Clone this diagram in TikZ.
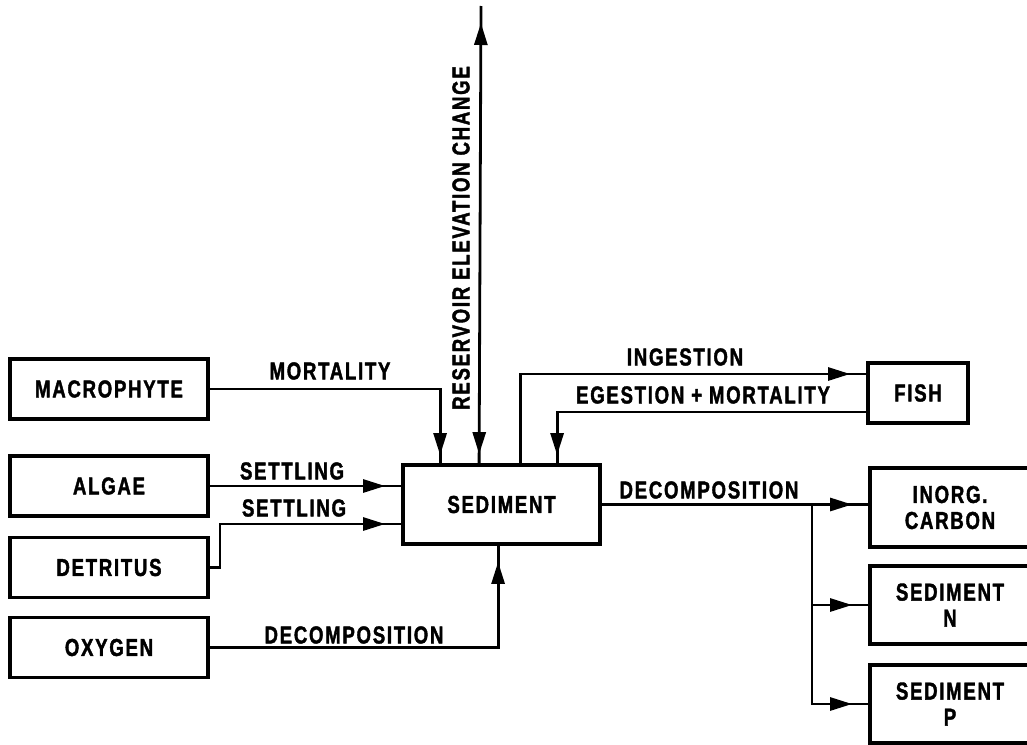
\documentclass[tikz,border=0pt]{standalone}
\usepackage{fontspec}
\newfontfamily\blockfont{Liberation Sans}[FakeStretch=0.76,LetterSpace=7,FakeBold=1.6]
\usetikzlibrary{arrows.meta,decorations.markings}

\tikzset{
  txt/.style={font=\blockfont\bfseries\fontsize{24.5}{26}\selectfont, align=center},
  box/.style={txt, draw, line width=3.8pt, inner sep=0pt},
  leftbox/.style={box, minimum width=198pt, minimum height=60pt},
  rightbox/.style={box, minimum width=160pt, minimum height=79pt},
  lbl/.style={txt, inner sep=0pt},
  flow/.style={line width=2.8pt, postaction={decorate},
    decoration={markings, mark=at position #1 with {\arrow{Triangle[length=22pt,width=13pt]}}}},
  flow/.default=-16pt,
  twoway/.style={line width=2.8pt, postaction={decorate},
    decoration={markings,
      mark=at position 17pt with {\arrowreversed{Triangle[length=22pt,width=13pt]}},
      mark=at position -9pt with {\arrow{Triangle[length=22pt,width=13pt]}}}}
}

\begin{document}
\begin{tikzpicture}[x=1pt,y=-1pt]
\useasboundingbox (0,0) rectangle (1027,744);

% compartments
\node[leftbox] (macro) at (109,389) {MACROPHYTE};
\node[leftbox] (algae) at (109,486) {ALGAE};
\node[leftbox] (det)   at (109,567.5) {DETRITUS};
\node[leftbox] (oxy)   at (109,647.5) {OXYGEN};
\node[box, minimum width=197pt, minimum height=79pt] (sed) at (501.5,504.5) {SEDIMENT};
\node[box, minimum width=100pt, minimum height=60pt] (fish) at (918,393) {FISH};
\node[rightbox] (inorg) at (950,507.5) {INORG.\\CARBON};
\node[rightbox, minimum height=78pt] (sedn) at (950,605) {SEDIMENT\\N};
\node[rightbox, minimum height=78pt] (sedp) at (950,704) {SEDIMENT\\P};

% attachment points on the sediment box
\coordinate (sM) at ([xshift=39pt]sed.north west);
\coordinate (sR) at ([xshift=78pt]sed.north west);
\coordinate (sI) at ([xshift=119pt]sed.north west);
\coordinate (sE) at ([xshift=156pt]sed.north west);
\coordinate (sO) at ([xshift=97pt]sed.south west);
\coordinate (top) at (481,6);
\coordinate (br) at (812,504.5);

% fluxes into sediment
\draw[flow=-8pt] (macro.east) -| (sM);
\draw[flow] (algae.east) -- (algae.east -| sed.west);
\draw[flow] (det.east) -- ++(10,0) |- ([yshift=-19.5pt]sed.west);
\draw[flow] (oxy.east) -| (sO);
\draw[twoway] (top) -- (sR);

% exchange with fish
\draw[flow] (sI) |- ([yshift=19pt]fish.west);
\draw[flow=-8pt] ([yshift=-19pt]fish.west) -| (sE);

% decomposition products
\draw[flow] (sed.east) -- (sed.east -| inorg.west);
\draw[flow] (br) |- (sedp.west);
\draw[flow] (br |- sedn.west) -- (sedn.west);

% flux labels
\node[lbl] (lmort) at (330,371) {MORTALITY};
\node[lbl] (lset1) at (292,471) {SETTLING};
\node[lbl] (lset2) at (294,508) {SETTLING};
\node[lbl] (ldec1) at (354,635) {DECOMPOSITION};
\node[lbl] (ling)  at (685,357) {INGESTION};
\node[lbl] (leg)   at (703,395) {EGESTION + MORTALITY};
\node[lbl] (ldec2) at (709,490) {DECOMPOSITION};
\node[lbl, rotate=90] (lres) at (461,238) {RESERVOIR ELEVATION CHANGE};
\end{tikzpicture}
\end{document}
